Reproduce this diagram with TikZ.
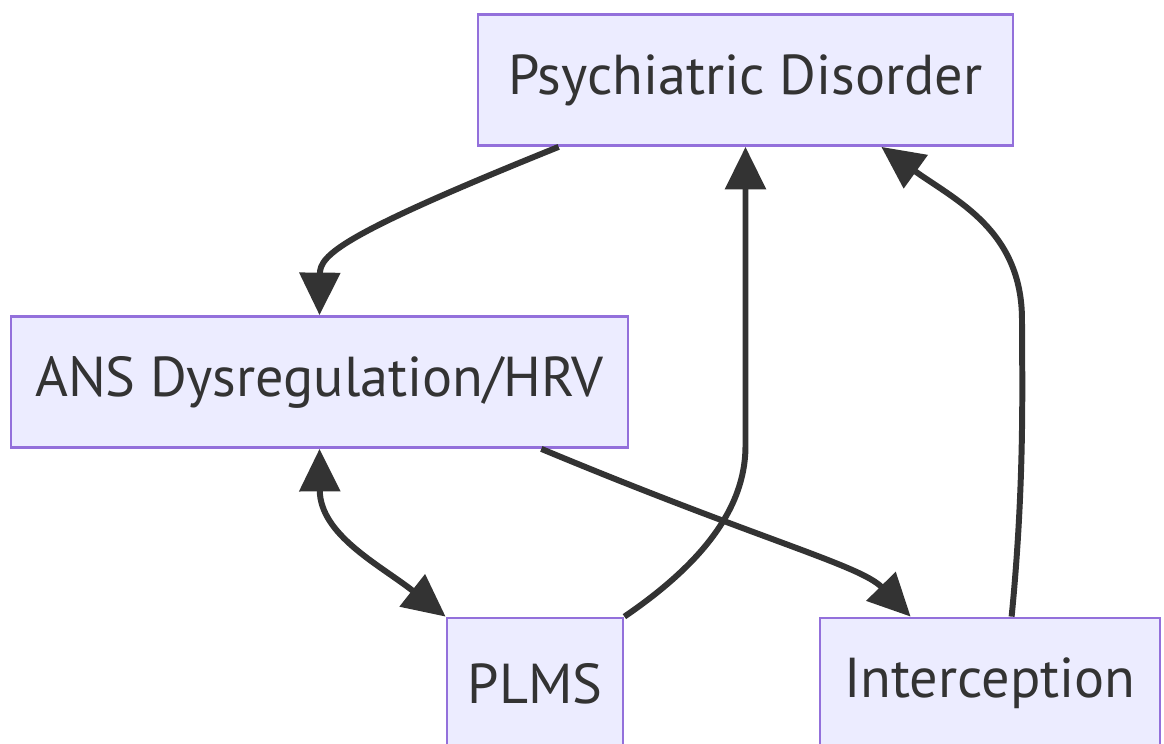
\documentclass[tikz,border=0pt]{standalone}
\usepackage{fontspec}
\setmainfont{PT Sans}
\usetikzlibrary{arrows.meta,calc}
\definecolor{boxfill}{HTML}{ECECFF}
\definecolor{boxline}{HTML}{9370DB}
\definecolor{inkgrey}{HTML}{333333}

\begin{document}
\begin{tikzpicture}[x=0.02cm,y=-0.02cm,
  box/.style={draw=boxline,fill=boxfill,line width=1.6pt,text=inkgrey,
    font=\fontsize{32}{38}\selectfont,minimum height=2.62cm,inner sep=0pt},
  link/.style={draw=inkgrey,line width=3.4pt,-{Triangle[length=0.85cm,width=0.8cm]}}]
\useasboundingbox (0,0) rectangle (1164,744);
\clip (0,0) rectangle (1164,744);

% Boxes
\node[box,minimum width=10.7cm] (psy) at (745.5,80) {Psychiatric Disorder};
\node[box,minimum width=12.34cm] (ans) at (319.5,382) {ANS Dysregulation/HRV};
\node[box,minimum width=3.52cm] (plms) at (535,683.5) {PLMS};
\node[box,minimum width=6.8cm] (intc) at (990,683.5) {Interception};

% Links
\draw[link] ($(psy.south west)+(82,0)$) .. controls (340,235) and (320,255) .. (ans.north);
\draw[link,{Triangle[length=0.85cm,width=0.8cm]}-{Triangle[length=0.85cm,width=0.8cm]}]
  (ans.south) .. controls (320,535) and (380,565) .. (plms.north west);
\draw[link] ($(ans.south east)+(-88,0)$) .. controls (760,540) and (860,565) .. ($(intc.north west)+(92,0)$);
\draw[link] (plms.north east) .. controls (700,565) and (745,510) .. ($(psy.south)+(0,300)$) -- (psy.south);
\draw[link] ($(intc.north west)+(193,0)$) .. controls (1025,480) and (1022,380) .. (1022,320)
  .. controls (1022,230) and (955,200) .. ($(psy.south east)+(-133,0)$);
\end{tikzpicture}
\end{document}
